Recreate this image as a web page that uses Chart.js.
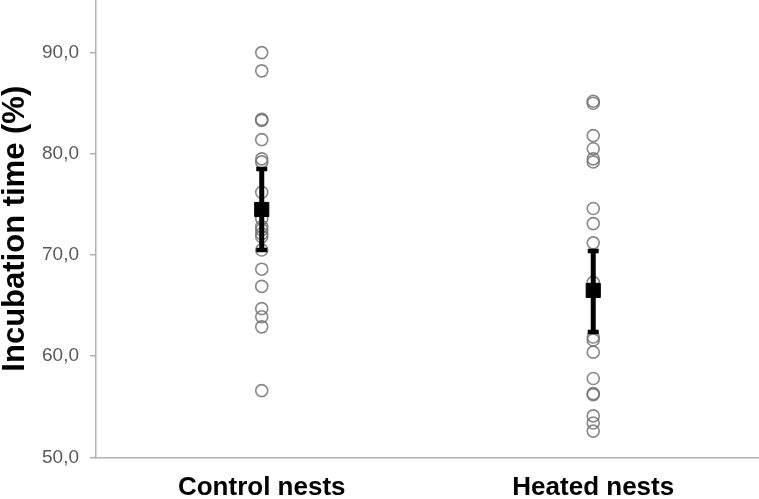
<!DOCTYPE html>
<html>
<head>
<meta charset="utf-8">
<script src="https://cdn.jsdelivr.net/npm/chart.js@4"></script>
<style>
  html, body { margin: 0; padding: 0; background: #fff; }
  #wrap { width: 759px; height: 499px; }
</style>
</head>
<body>
<div id="wrap"><canvas id="nestChart"></canvas></div>
<script>
const groups = ['Control nests', 'Heated nests'];

const controlValues = [90.0, 88.2, 83.4, 83.3, 81.4, 79.5, 79.2, 76.2, 74.6, 73.6, 72.8, 72.5,
    72.1, 71.8, 70.5, 68.6, 66.9, 64.7, 63.9, 62.9, 56.6];
const heatedValues = [85.2, 85.0, 81.8, 80.5, 79.5, 79.2, 74.6, 73.1, 71.2, 67.3, 61.9, 61.6,
    60.4, 57.8, 56.3, 56.2, 54.1, 53.4, 52.6];

const means = [74.5, 66.5];
const lowerErr = [70.5, 62.4];
const upperErr = [78.5, 70.4];

const yTicks = [50, 60, 70, 80, 90];

const ctx = document.getElementById('nestChart').getContext('2d');

function toPoints(label, values) {
    return values.map(v => ({ x: label, y: v }));
}

const circleStyle = {
    type: 'scatter',
    pointStyle: 'circle',
    pointRadius: 6,
    pointBorderWidth: 1.6,
    pointBorderColor: 'rgba(115, 115, 115, 0.85)',
    pointBackgroundColor: 'rgba(255, 255, 255, 0)',
    order: 3
};

const datasets = [
    Object.assign({ label: 'Control', data: toPoints(groups[0], controlValues) }, circleStyle),
    Object.assign({ label: 'Heated', data: toPoints(groups[1], heatedValues) }, circleStyle)
];

// error bars: vertical line with flat caps at both ends
groups.forEach(function (g, i) {
    datasets.push({
        type: 'line',
        label: 'err' + i,
        data: [{ x: g, y: lowerErr[i] }, { x: g, y: upperErr[i] }],
        borderColor: '#000',
        borderWidth: 5,
        pointStyle: 'line',
        pointRadius: 5.5,
        pointBorderWidth: 4.5,
        pointBorderColor: '#000',
        order: 2
    });
});

// means
datasets.push({
    type: 'scatter',
    label: 'Mean',
    data: groups.map((g, i) => ({ x: g, y: means[i] })),
    pointStyle: 'rect',
    pointRadius: 10,
    pointBackgroundColor: '#000',
    pointBorderColor: '#000',
    order: 1
});

new Chart(ctx, {
    type: 'scatter',
    data: { labels: groups, datasets: datasets },
    options: {
        responsive: true,
        maintainAspectRatio: false,
        animation: false,
        layout: { autoPadding: false, padding: { top: 0, right: 0, left: 0, bottom: -19 } },
        plugins: {
            legend: { display: false },
            tooltip: { enabled: false }
        },
        scales: {
            x: {
                type: 'category',
                labels: groups,
                offset: true,
                grid: { display: false, drawTicks: false },
                border: { color: '#b0b0b0', width: 1.5 },
                afterFit: function (axis) { axis.paddingLeft = 0; axis.paddingRight = 0; },
                ticks: {
                    color: '#000',
                    padding: 16,
                    font: { family: 'Liberation Sans, Arial, sans-serif', size: 26, weight: 'bold', lineHeight: 1.1 }
                }
            },
            y: {
                min: 50,
                max: 95.2,
                afterBuildTicks: function (axis) {
                    axis.ticks = yTicks.map(v => ({ value: v }));
                },
                afterFit: function (axis) { axis.paddingTop = 0; axis.paddingBottom = 0; },
                grid: {
                    drawOnChartArea: false,
                    drawTicks: true,
                    tickLength: 6,
                    color: '#b0b0b0',
                    lineWidth: 1.5
                },
                border: { color: '#b0b0b0', width: 1.5 },
                ticks: {
                    color: '#595959',
                    padding: 11,
                    font: { family: 'Liberation Sans, Arial, sans-serif', size: 19 },
                    callback: function (v) { return v.toFixed(1).replace('.', ','); }
                },
                title: {
                    display: true,
                    text: 'Incubation time (%)',
                    color: '#000',
                    padding: { top: 0, bottom: 0 },
                    font: { family: 'Liberation Sans, Arial, sans-serif', size: 31, weight: 'bold', lineHeight: 1 }
                }
            }
        }
    }
});
</script>
</body>
</html>
